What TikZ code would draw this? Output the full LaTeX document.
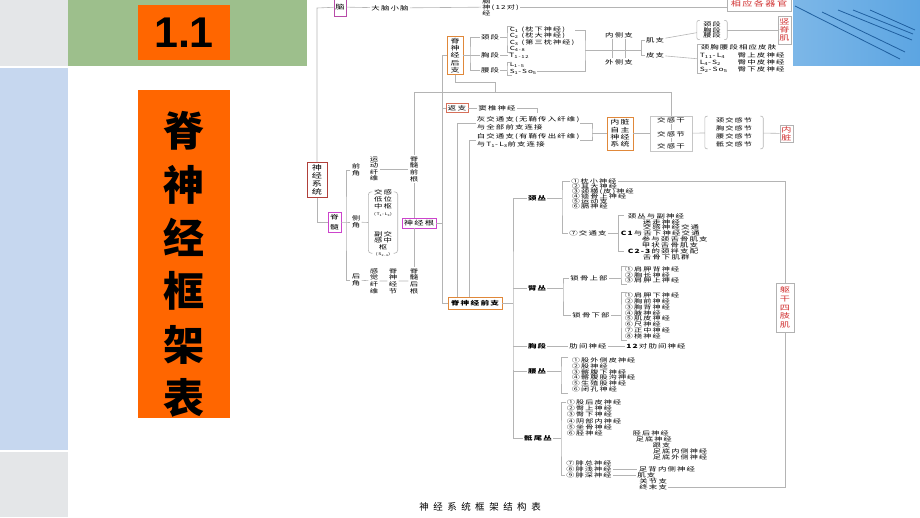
\documentclass[tikz,border=0pt]{standalone}
\usepackage{fontspec}
\setmainfont{Noto Sans CJK SC}
\newfontfamily\zw{Noto Sans CJK SC}[FakeStretch=1.45,LetterSpace=20]
\newfontfamily\hei{Liberation Sans}
\newcommand{\zfs}[2]{\zw\fontsize{#1}{#2}\selectfont\lineskiplimit=-10pt\relax}

\definecolor{panelgray}{HTML}{E4E6E8}
\definecolor{panelblue}{HTML}{C6D7EF}
\definecolor{panelgreen}{HTML}{9DBF8C}
\definecolor{orangeA}{HTML}{FF6600}
\definecolor{photoblue}{HTML}{5CA5E2}
\definecolor{photoline}{HTML}{1F5F9F}
\definecolor{magA}{HTML}{B84BA8}
\definecolor{magB}{HTML}{CC44CC}
\definecolor{brnA}{HTML}{B0403A}
\definecolor{orgB}{HTML}{E0883A}
\definecolor{orgC}{HTML}{D6705A}
\definecolor{redtxt}{HTML}{D03030}
\definecolor{linegray}{HTML}{B4B4B4}

\tikzset{
  lbl/.style={inner sep=1.2pt, text=black, font=\zfs{5.8}{5.8}},
  lblb/.style={lbl, font=\zfs{5.8}{5.8}\bfseries},
  vlbl/.style={lbl, align=center, font=\zfs{5.8}{6.6}},
  lst/.style={inner sep=0.6pt, text=black, align=left, anchor=north west},
  box/.style={draw, line width=0.9pt, inner sep=1.2pt, align=center, text=black, font=\zfs{6.4}{7.5}},
  redbox/.style={box, draw=gray!60, text=redtxt},
  conn/.style={draw=linegray, line width=0.6pt},
}

\begin{document}
\begin{tikzpicture}
\useasboundingbox (0pt,0pt) rectangle (920pt,-517pt);

% slide frame
\fill[panelgray] (0pt,0pt) rectangle (68pt,-66pt);
\fill[panelblue] (0pt,-68pt) rectangle (68pt,-450pt);
\fill[panelgray] (0pt,-452pt) rectangle (68pt,-517pt);
\fill[panelgreen] (68pt,0pt) rectangle (307pt,-66pt);
\node (num) [fill=orangeA, minimum width=92pt, minimum height=55pt, font=\hei\bfseries\fontsize{43}{43}\selectfont] at (184pt,-32.5pt) {1.1};
\node (tbox) [fill=orangeA, minimum width=92pt, minimum height=328pt] at (184pt,-254pt) {};
\node (ttl) [align=center, font=\bfseries\fontsize{41}{53.4}\selectfont] at (184pt,-264.5pt) {脊\\神\\经\\框\\架\\表};

% photo, top right
\shade[left color=photoblue!80!white, right color=photoblue] (793pt,0pt) rectangle (920pt,-65pt);
\draw[photoline, line width=0.8pt] (795pt,-6pt) -- (900pt,-59pt);
\draw[photoline, line width=0.8pt] (822pt,-12pt) -- (905pt,-52pt);
\draw[photoline, line width=0.8pt] (838pt,-10pt) -- (912pt,-40pt);
\draw[photoline, line width=0.8pt] (853pt,-10pt) -- (913pt,-34pt);
\draw[photoline, line width=0.8pt] (870pt,-10pt) -- (915pt,-30pt);

% brain row
\coordinate (ctl) at (317pt,-8pt);
\node (nao) [box, draw=magA, minimum width=12pt, minimum height=18pt] at (340pt,-7pt) {脑};
\node (dnxn) [lbl] at (390pt,-8pt) {大脑小脑};
\node (nsj) [lbl, align=left, anchor=west, font=\zfs{5.6}{6}] at (481pt,-7pt) {脑\\神(12对)\\经};
\node (xygqg) [redbox, minimum width=64pt, minimum height=14pt, font=\zfs{7}{7}] at (759pt,-4pt) {相应各器官};
\draw[conn] (nao) -- (dnxn) -- (nsj);
\draw[conn] (nsj.east) -- (xygqg.west |- nsj.east);

% spinal cord
\node (sjxt) [box, draw=brnA, minimum width=20pt, minimum height=35pt, font=\zfs{7}{8.2}] at (317pt,-180pt) {神\\经\\系\\统};
\draw[conn] (nao) -- (ctl) -- (sjxt);
\node (jisui) [box, draw=magB, minimum width=13pt, minimum height=20pt, font=\zfs{6}{10}] at (334.5pt,-222pt) {脊\\髓};
\draw[conn] (sjxt) |- (jisui);
\node (qianjiao) [vlbl] at (356pt,-170pt) {前\\角};
\node (cejiao) [vlbl] at (356pt,-222pt) {侧\\角};
\node (houjiao) [vlbl] at (356pt,-280pt) {后\\角};
\coordinate (jsb) at (346pt,-222pt);
\draw[conn] (jisui) -- (jsb) -- (cejiao);
\draw[conn] (qianjiao) -| (jsb) |- (houjiao);
\node (ydxw) [vlbl] at (374pt,-169pt) {运\\动\\纤\\维};
\node (jsqg) [vlbl] at (414pt,-169pt) {脊\\髓\\前\\根};
\draw[conn] (ydxw) -- (jsqg);
\node (zs) [minimum width=29pt, minimum height=61pt] at (383pt,-222.5pt) {};
\node (dwzs) [vlbl, font=\zfs{5.8}{7}] at (383pt,-203pt) {交感\\低位\\中枢\\{\fontsize{3.6}{4}\selectfont(T\textsubscript{1}-L\textsubscript{3})}};
\node (fjzs) [vlbl, font=\zfs{5.8}{6.2}] at (383pt,-244pt) {副交\\感中\\枢\\{\fontsize{3.6}{4}\selectfont(S\textsubscript{2-4})}};
\draw[conn, rounded corners=3pt] ([xshift=4pt]zs.north west) -- (zs.north west) -- (zs.south west) -- ([xshift=4pt]zs.south west);
\draw[conn, rounded corners=3pt] ([xshift=-4pt]zs.north east) -- (zs.north east) -- (zs.south east) -- ([xshift=-4pt]zs.south east);
\draw[conn] (cejiao) -- (zs.west);
\node (jyg) [box, draw=magB, minimum width=34pt, minimum height=10pt] at (419pt,-223pt) {神经根};
\draw[conn] (jsqg) -- (jsqg |- jyg.north);
\node (jshg) [vlbl] at (414pt,-281pt) {脊\\髓\\后\\根};
\draw[conn] (jsqg |- jyg.south) -- (jshg);
\node (gjxw) [vlbl] at (374pt,-281pt) {感\\觉\\纤\\维};
\node (jsjj) [vlbl] at (393pt,-281pt) {脊\\神\\经\\节};
\draw[conn] (houjiao) -- (gjxw) -- (jsjj) -- (jshg);

% rami
\coordinate (v442) at (442pt,-55.5pt);
\node (jshz) [box, draw=orgB, minimum width=16pt, minimum height=38pt, font=\zfs{6.2}{7.2}] at (455pt,-55.5pt) {脊\\神\\经\\后\\支};
\node (fanzhi) [box, draw=orgC, minimum width=22pt, minimum height=9pt, font=\zfs{6}{6}] at (457pt,-108pt) {返支};
\node (jsqz) [box, draw=orgB, minimum width=54pt, minimum height=12pt, font=\zfs{6}{6}\bfseries] at (475pt,-303pt) {脊神经前支};
\draw[conn] (jshz) -- (v442) -- (v442 |- jsqz) -- (jsqz);
\draw[conn] (fanzhi) -- (fanzhi -| v442);
\draw[conn] (jyg) -- (jyg -| v442);

% posterior rami
\node (jingd) [lbl] at (490pt,-37pt) {颈段};
\node (xiongd) [lbl] at (490pt,-55.5pt) {胸段};
\node (yaod) [lbl] at (490pt,-70pt) {腰段};
\coordinate (hb) at (470pt,-55.5pt);
\draw[conn] (jshz) -- (xiongd);
\draw[conn] (jingd) -| (hb) |- (yaod);
\coordinate (jg) at (671pt,-92pt);
\coordinate (h1) at (495pt,-82pt);
\node (cl) [lst, font=\zfs{5.6}{6.3}] at (509pt,-26pt) {C\textsubscript{1} (枕下神经)\\C\textsubscript{2} (枕大神经)\\C\textsubscript{3} (第三枕神经)\\C\textsubscript{4-8}};
\draw[conn] ([xshift=3pt]cl.north west) -| ([xshift=-2pt]cl.west) |- ([xshift=3pt]cl.south west);
\draw[conn] (jingd) -- ([xshift=-2pt]cl.west |- jingd);
\node (t112) [lbl, anchor=west] at (508pt,-55.5pt) {T\textsubscript{1-12}};
\draw[conn] (xiongd) -- (t112);
\node (ls) [lst, font=\zfs{5.6}{6.3}] at (509pt,-62pt) {L\textsubscript{1-5}\\S\textsubscript{1}-So\textsubscript{5}};
\draw[conn] ([xshift=3pt]ls.north west) -| ([xshift=-2pt]ls.west) |- ([xshift=3pt]ls.south west);
\draw[conn] (yaod) -- ([xshift=-2pt]ls.west |- yaod);
\coordinate (rb) at (585pt,-50pt);
\draw[conn] ([yshift=-4pt]cl.north east) -| (rb) |- ([yshift=3.5pt]ls.south east);
\node (neice) [lbl] at (619pt,-35pt) {内侧支};
\node (waice) [lbl] at (619pt,-62pt) {外侧支};
\draw[conn] ([xshift=-7pt]neice.south) -- ([xshift=-7pt]waice.north);
\draw[conn] ([xshift=6pt]neice.south) -- ([xshift=6pt]waice.north);
\coordinate (jp) at (641pt,-50pt);
\draw[conn] (rb) -- (jp);
\node (jizhi) [lbl] at (655pt,-40pt) {肌支};
\node (pizhi) [lbl] at (655pt,-55pt) {皮支};
\draw[conn] (jizhi) -| (jp) |- (pizhi);
\node (jxy) [lbl, align=center, minimum width=30pt, font=\zfs{5.6}{5.6}] at (712pt,-30pt) {颈段\\胸段\\腰段};
\draw[conn, rounded corners=2pt] ([xshift=3pt]jxy.north west) -- (jxy.north west) -- (jxy.south west) -- ([xshift=3pt]jxy.south west);
\draw[conn, rounded corners=2pt] ([xshift=-3pt]jxy.north east) -- (jxy.north east) -- (jxy.south east) -- ([xshift=-3pt]jxy.south east);
\draw[conn] (jizhi) -- (jxy);
\node (sjj) [redbox, minimum width=13pt, minimum height=28pt, font=\zfs{7}{8}] at (784.5pt,-30pt) {竖\\脊\\肌};
\draw[conn] (jxy) -- (sjj);
\node (pf) [lst, font=\zfs{5.8}{7.3}] at (699pt,-44pt) {\hspace*{1pt}颈胸腰段相应皮肤\\\makebox[38pt][l]{T\textsubscript{11}-L\textsubscript{4}}臀上皮神经\\\makebox[38pt][l]{L\textsubscript{4}-S\textsubscript{2}}臀中皮神经\\\makebox[38pt][l]{S\textsubscript{2}-So\textsubscript{5}}臀下皮神经};
\draw[conn] ([xshift=3pt]pf.north west) -| ([xshift=-2pt]pf.west) |- ([xshift=3pt]pf.south west);
\draw[conn] (pizhi) -- ([xshift=-2pt]pf.west);

% communicating branches
\node (dzsj) [lbl] at (497pt,-108pt) {窦椎神经};
\coordinate (dzc) at (537pt,-108pt);
\coordinate (dzd) at (537pt,-113pt);
\draw[conn] (fanzhi) -- (dzsj);
\draw[conn] (dzsj) -- (dzc) -- (dzd);
\node (hjtz) [lst, font=\zfs{5.8}{7.6}] at (476pt,-116pt) {灰交通支(无鞘传入纤维)\\与全部前支连接};
\node (bjtz) [lst, font=\zfs{5.8}{7.4}] at (476pt,-133pt) {白交通支(有鞘传出纤维)\\与T\textsubscript{1}-L\textsubscript{3}前支连接};
\draw[conn] (hjtz) -| ([xshift=-18pt]jsqz.north);
\draw[conn] (bjtz) -| ([xshift=-6pt]jsqz.north);
\coordinate (rb2) at (592pt,-133.5pt);
\draw[conn] (hjtz) -| (rb2) |- (bjtz);
\node (nzzz) [box, draw=orgB, minimum width=26pt, minimum height=33pt, font=\zfs{6.2}{7.3}] at (620pt,-133.5pt) {内脏\\自主\\神经\\系统};
\draw[conn] (rb2) -- (nzzz);
\node (jgg) [draw=gray!45, line width=0.6pt, minimum width=42pt, minimum height=35pt] at (671pt,-133.5pt) {};
\node (jg1) [lbl] at (671pt,-120pt) {交感干};
\node (jg2) [lbl] at (671pt,-134pt) {交感节};
\node (jg3) [lbl] at (671pt,-146pt) {交感干};
\draw[conn] (jg1) -- (jg2) -- (jg3);
\draw[conn] (jsqg) -- (jsqg |- jg) -- (jg) -- (jgg);
\draw[conn] (jshz) |- (h1) -- (h1 |- jg);
\draw[conn] (nzzz) -- (jgg);
\node (jjg) [lbl, align=center, minimum width=58pt, font=\zfs{5.6}{8.2}] at (734pt,-132.5pt) {颈交感节\\胸交感节\\腰交感节\\骶交感节};
\draw[conn, rounded corners=2pt] ([xshift=3pt]jjg.north west) -- (jjg.north west) -- (jjg.south west) -- ([xshift=3pt]jjg.south west);
\draw[conn, rounded corners=2pt] ([xshift=-3pt]jjg.north east) -- (jjg.north east) -- (jjg.south east) -- ([xshift=-3pt]jjg.south east);
\draw[conn] (jgg) -- (jjg);
\node (neizang) [redbox, minimum width=13pt, minimum height=17pt, font=\zfs{7}{8}] at (786.5pt,-133.5pt) {内\\脏};
\draw[conn] (jjg) -- (neizang);

% anterior rami
\coordinate (qv) at (513pt,-303pt);
\draw[conn] (jsqz) -- (qv);
\node (jingc) [lblb] at (537pt,-198pt) {颈丛};
\node (bic) [lblb] at (537pt,-288pt) {臂丛};
\node (xd2) [lblb] at (537pt,-346pt) {胸段};
\node (yaoc) [lblb] at (537pt,-371pt) {腰丛};
\node (dwc) [lblb] at (538pt,-438pt) {骶尾丛};
\draw[conn] (jingc) -| (qv) |- (dwc);
\draw[conn] (bic) -- (bic -| qv);
\draw[conn] (xd2) -- (xd2 -| qv);
\draw[conn] (yaoc) -- (yaoc -| qv);
\node (qgsz) [redbox, minimum width=18pt, minimum height=49pt, font=\zfs{7}{8.6}] at (785pt,-307.5pt) {躯\\干\\四\\肢\\肌};

% cervical plexus
\coordinate (jcb) at (562pt,-198pt);
\node (jc1) [lbl, anchor=west, font=\zfs{5.6}{5.6}] at (570pt,-181pt) {①枕小神经};
\node (jc2) [lst, font=\zfs{5.6}{5.2}] at (571pt,-182.5pt) {②耳大神经\\③颈横(皮)神经\\④锁骨上神经\\⑤运动支\\⑥膈神经};
\node (jc7) [lbl, anchor=west] at (568pt,-233pt) {⑦交通支};
\draw[conn] (jingc) -- (jcb);
\draw[conn] (jc1) -| (jcb) |- (jc7);
\draw[conn] (jc1) -| (qgsz);
\node (jt) [lst, font=\zfs{5.8}{5.85}] at (620pt,-212.5pt) {\hspace*{7pt}颈丛与副神经\\\hspace*{22pt}迷走神经\\\hspace*{22pt}交感神经交通\\\textbf{C1}与舌下神经交通\\\hspace*{21pt}参与颈舌骨肌支\\\hspace*{21pt}甲状舌骨肌支\\\hspace*{7pt}\textbf{C2-3}的颈袢支配\\\hspace*{22pt}舌骨下肌群};
\coordinate (jtt) at (618pt,-215pt);
\coordinate (jtb) at (618pt,-251pt);
\draw[conn] ([xshift=6pt]jtt) -- (jtt) -- (jtb) -- ([xshift=6pt]jtb);
\draw[conn] (jc7) -- (jc7 -| jtt);

% brachial plexus
\coordinate (bcb) at (563pt,-288pt);
\node (sgsb) [lbl] at (589pt,-278pt) {锁骨上部};
\node (sgxb) [lbl] at (591pt,-315pt) {锁骨下部};
\draw[conn] (bic) -- (bcb);
\draw[conn] (sgsb) -| (bcb) |- (sgxb);
\node (sgs) [lst, font=\zfs{5.6}{5.6}] at (624pt,-266pt) {①肩胛背神经\\②胸长神经\\③肩胛上神经};
\draw[conn] ([xshift=3pt]sgs.north west) -| ([xshift=-3pt]sgs.west) |- ([xshift=3pt]sgs.south west);
\draw[conn] (sgsb) -- ([xshift=-3pt]sgs.west |- sgsb);
\node (sgx) [lst, font=\zfs{5.6}{5.85}] at (624pt,-292pt) {①肩胛下神经\\②胸前神经\\③胸背神经\\④腋神经\\⑤肌皮神经\\⑥尺神经\\⑦正中神经\\⑧桡神经};
\draw[conn] ([xshift=3pt]sgx.north west) -| ([xshift=-3pt]sgx.west) |- ([xshift=3pt]sgx.south west);
\draw[conn] (sgxb) -- ([xshift=-3pt]sgx.west |- sgxb);

% thoracic
\node (ljsj) [lbl] at (588pt,-346pt) {肋间神经};
\node (ljsj12) [lbl] at (656pt,-346pt) {\textbf{12}对肋间神经};
\draw[conn] (xd2) -- (ljsj) -- (ljsj12);

% lumbar plexus
\node (ycl) [lst, font=\zfs{5.6}{5.8}] at (571pt,-357pt) {①股外侧皮神经\\②股神经\\③髂腹下神经\\④髂腹股沟神经\\⑤生殖股神经\\⑥闭孔神经};
\draw[conn] ([xshift=-3pt]ycl.north west) -| ([xshift=-10pt]ycl.west) |- ([xshift=-3pt]ycl.south west);
\draw[conn] (yaoc) -- ([xshift=-10pt]ycl.west |- yaoc);

% sacrococcygeal plexus
\node (dwa) [lst, font=\zfs{5.6}{6.2}] at (566pt,-399pt) {①股后皮神经\\②臀上神经\\③臀下神经\\④阴部内神经\\⑤坐骨神经\\⑥胫神经};
\node (jhsj) [lst, font=\zfs{5.6}{6}] at (632pt,-429.5pt) {胫后神经\\\hspace*{3pt}足底神经\\\hspace*{20pt}跟支\\\hspace*{20pt}足底内侧神经\\\hspace*{20pt}足底外侧神经};
\node (fz) [lbl, anchor=west, font=\zfs{5.6}{5.6}] at (565pt,-463pt) {⑦腓总神经};
\node (fq) [lbl, anchor=west, font=\zfs{5.6}{5.6}] at (565pt,-469.5pt) {⑧腓浅神经};
\node (fs) [lbl, anchor=west, font=\zfs{5.6}{5.6}] at (565pt,-475pt) {⑨腓深神经};
\coordinate (dwcb) at (561pt,-438pt);
\draw[conn] (dwc) -- (dwcb);
\draw[conn] ([yshift=-3.5pt]dwa.north west) -| (dwcb) |- (fs);
\node (zbn) [lbl] at (667pt,-469.5pt) {足背内侧神经};
\node (jz2) [lbl, anchor=west] at (636pt,-475pt) {肌支};
\node (gjz) [lbl, anchor=west] at (638pt,-481pt) {关节支};
\node (zmz) [lbl, anchor=west] at (638pt,-487pt) {终末支};
\draw[conn] (fq) -- (zbn);
\draw[conn] (fs) -- (jz2);
\draw[conn] (zmz) -| (qgsz);

% caption
\node (cap) [font=\fontsize{9.5}{9.5}\selectfont, text=black] at (480pt,-507pt) {神\hspace{4.5pt}经\hspace{4.5pt}系\hspace{4.5pt}统\hspace{4.5pt}框\hspace{4.5pt}架\hspace{4.5pt}结\hspace{4.5pt}构\hspace{4.5pt}表};
\end{tikzpicture}
\end{document}
